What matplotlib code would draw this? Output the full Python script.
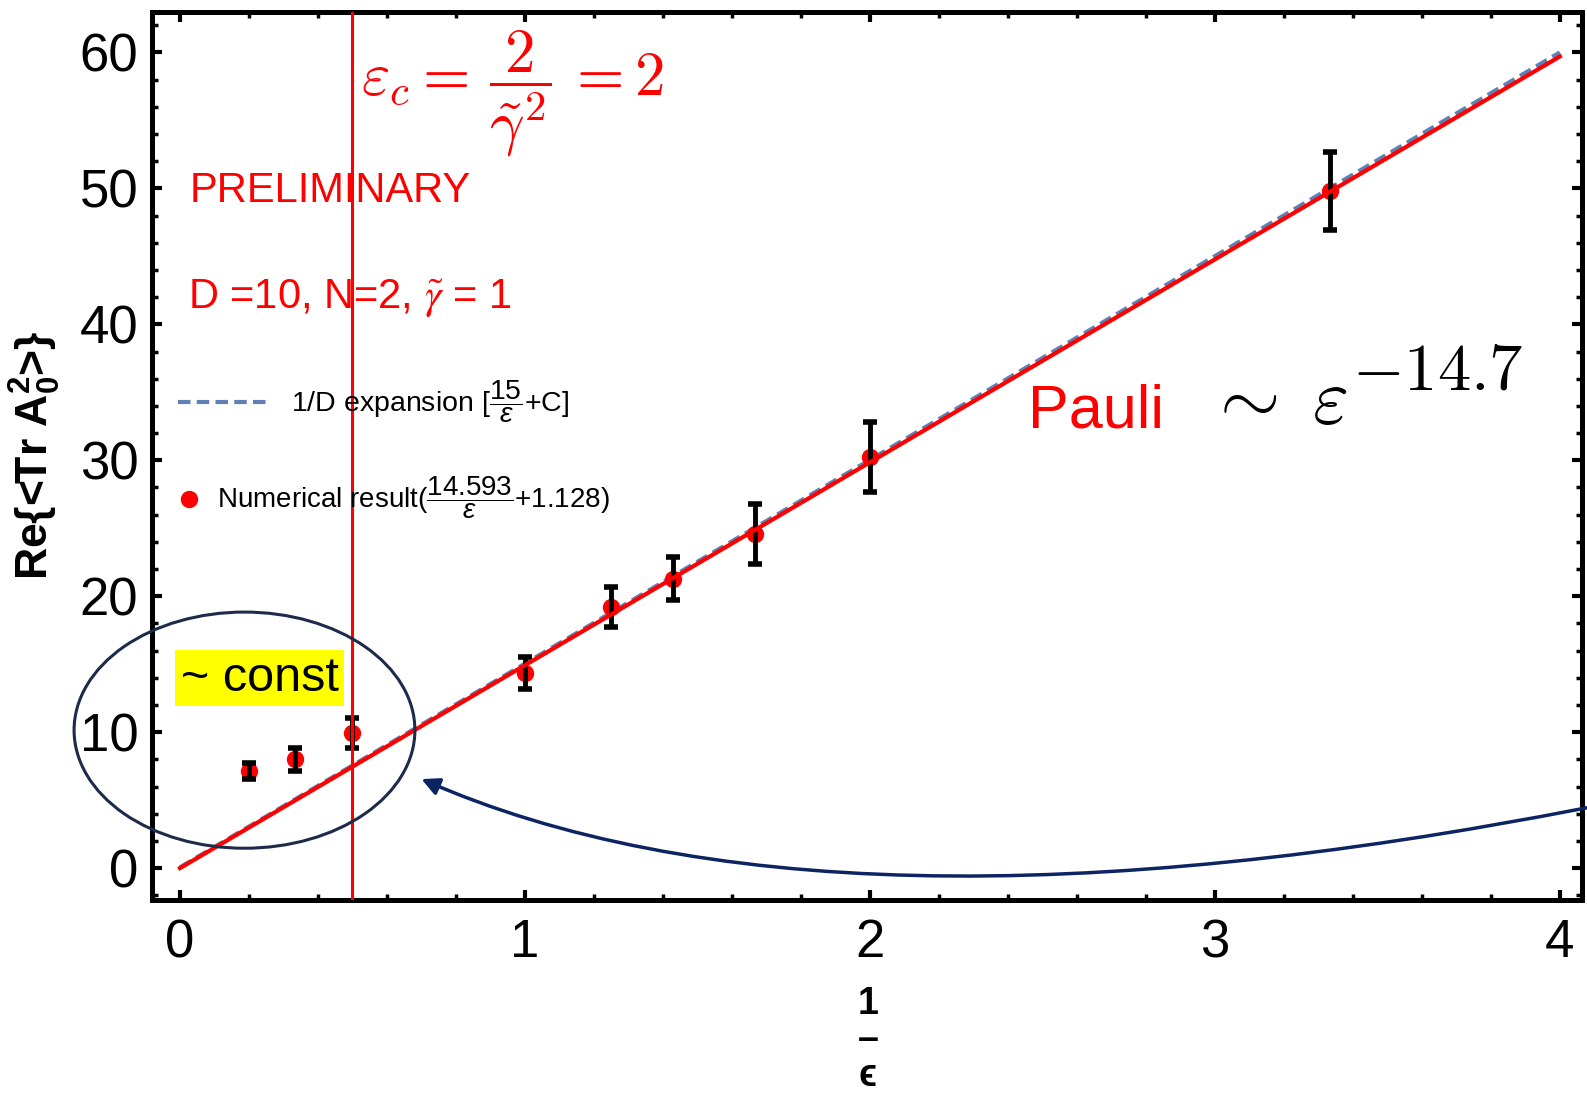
import matplotlib
matplotlib.use('Agg')
import matplotlib.pyplot as plt
from matplotlib.patches import Ellipse, FancyArrowPatch
from matplotlib.path import Path
from matplotlib.lines import Line2D
from matplotlib.ticker import MultipleLocator

plt.rcParams['font.family'] = ['Liberation Sans', 'DejaVu Sans']
plt.rcParams['mathtext.fontset'] = 'custom'
plt.rcParams['mathtext.rm'] = 'Liberation Sans'
plt.rcParams['mathtext.it'] = 'Liberation Sans:italic'
plt.rcParams['mathtext.bf'] = 'Liberation Sans:bold'

# numerical data: 1/eps, Re<Tr A0^2>, error
inv_eps = [0.2, 1 / 3, 0.5, 1.0, 1.25, 1 / 0.7, 1 / 0.6, 2.0, 1 / 0.3]
re_tr = [7.15, 8.0, 9.95, 14.35, 19.2, 21.3, 24.6, 30.25, 49.8]
err = [0.6, 0.85, 1.1, 1.2, 1.45, 1.6, 2.2, 2.6, 2.85]

# fit lines
fit_x = [0.0, 4.0]
fit_num = [0.0, 59.7]
fit_1overD = [0.06, 60.0]

eps_c_inv = 0.5

RED = '#ff0000'
BLUE = '#5e81b5'
NAVY = '#0c2462'

fig = plt.figure(figsize=(15.87, 10.95), dpi=100)
ax = fig.add_axes([0.0958, 0.178, 0.9010, 0.811])

ax.plot(fit_x, fit_1overD, color=BLUE, lw=3, dashes=(3, 1.5), zorder=2)
ax.plot(inv_eps, re_tr, 'o', color=RED, ms=11.5, zorder=3)
ax.errorbar(inv_eps, re_tr, yerr=err, fmt='none', ecolor='black', elinewidth=3.5,
            capsize=5, capthick=4, zorder=4)
ax.plot(fit_x, fit_num, color=RED, lw=3, zorder=5)
ax.axvline(eps_c_inv, color=RED, lw=2.2, zorder=5)

ax.set_xlim(-0.081, 4.064)
ax.set_ylim(-2.35, 62.97)
ax.xaxis.set_major_locator(MultipleLocator(1))
ax.xaxis.set_minor_locator(MultipleLocator(0.2))
ax.yaxis.set_major_locator(MultipleLocator(10))
ax.yaxis.set_minor_locator(MultipleLocator(2))
ax.tick_params(which='both', direction='in', top=True, right=True)
ax.tick_params(which='major', length=7, width=3, labelsize=38)
ax.tick_params(which='minor', length=4, width=2.5)
ax.tick_params(axis='x', pad=13)
ax.tick_params(axis='y', pad=10)
for s in ax.spines.values():
    s.set_linewidth(3.6)

ax.set_ylabel(r'Re{<Tr A$_\mathbf{0}^\mathbf{2}$>}', fontsize=32, fontweight='bold')
ax.yaxis.set_label_coords(-0.062, 0.501)
ax.set_xlabel('1\n\u2013\n\u03f5', fontsize=27, fontweight='bold', linespacing=1.0)
ax.xaxis.set_label_coords(0.5007, -0.097)

# legends
leg1 = ax.legend(handles=[Line2D([], [], color=BLUE, lw=3, dashes=(3, 1.5))],
                 labels=[r'1/D expansion [$\dfrac{15}{\epsilon}$+C]'],
                 loc='center left', bbox_to_anchor=(0.0182, 0.561), frameon=False,
                 fontsize=20.5, handlelength=3.2, handletextpad=0.75,
                 borderpad=0, borderaxespad=0)
ax.add_artist(leg1)
ax.legend(handles=[Line2D([], [], ls='none', marker='o', color=RED, ms=11.5)],
          labels=[r'Numerical result($\dfrac{14.593}{\epsilon}$+1.128)'],
          loc='center left', bbox_to_anchor=(0.0203, 0.453), frameon=False,
          fontsize=20, handlelength=0.6, handletextpad=0.7,
          borderpad=0, borderaxespad=0)

# annotations
ax.text(0.525, 57.0, r'$\varepsilon_c = \,\dfrac{2}{\tilde{\gamma}^2}\, = 2$', color=RED,
        fontsize=44, math_fontfamily='cm', ha='left', va='center')
ax.text(0.029, 49.0, 'PRELIMINARY', color=RED, fontsize=30, va='baseline')
ax.text(0.022, 41.2, r'D =10, N=2, $\tilde{\gamma}$ = 1', color=RED, fontsize=30,
        va='baseline', math_fontfamily='stix')
ax.text(2.458, 32.4, 'Pauli', color=RED, fontsize=44, va='baseline')
ax.text(2.975, 32.75, r'$\sim\;\varepsilon$', fontsize=56, math_fontfamily='cm', va='baseline')
ax.text(3.397, 35.17, r'$-14.7$', fontsize=48, math_fontfamily='cm', va='baseline')
ax.text(0.231, 13.98, '~ const', fontsize=35, ha='center', va='center', zorder=6,
        bbox=dict(boxstyle='square,pad=0.12', fc='yellow', ec='none'))

ax.add_patch(Ellipse((0.187, 10.15), 0.988, 17.37, fill=False, ec='#1d2b4a', lw=2.2,
                     clip_on=False, zorder=6))
arrow_path = Path([(4.078, 4.44), (1.87, -6.52), (0.70, 6.55)],
                  [Path.MOVETO, Path.CURVE3, Path.CURVE3])
ax.add_patch(FancyArrowPatch(path=arrow_path, arrowstyle='-|>,head_length=0.7,head_width=0.35',
                             mutation_scale=15, color=NAVY, lw=2.5, clip_on=False,
                             transform=ax.transData, zorder=6))

fig.savefig('out.png', dpi=100)
